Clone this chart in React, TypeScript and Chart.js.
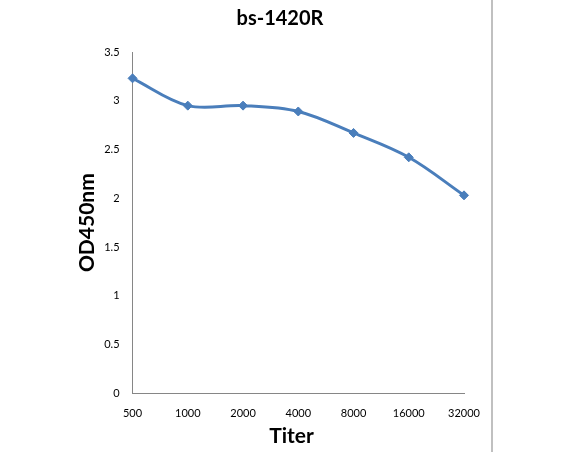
import { useEffect, useRef } from "react"
import { Chart, registerables } from "chart.js"

Chart.register(...registerables)

// valores
const titers = ["500", "1000", "2000", "4000", "8000", "16000", "32000"]
const od450 = [3.23, 2.95, 2.95, 2.89, 2.67, 2.42, 2.03]

const chartTitle = "bs-1420R"
const xTitle = "Titer"
const yTitle = "OD450nm"

const blue = "#4A7EBB"
const axisGray = "#868686"

// títulos desenhados à mão (o título do Chart.js fica centrado pelo padding)
const titlesPlugin = {
  id: "titles",
  afterDraw(chart: Chart) {
    const ctx = chart.ctx
    ctx.save()
    ctx.fillStyle = "#000"
    ctx.textAlign = "center"
    ctx.textBaseline = "alphabetic"
    ctx.font = "bold 20px Lato"
    ctx.fillText(chartTitle, 280, 24.5)
    ctx.font = "bold 21px Lato"
    ctx.fillText(xTitle, 291.5, 442.5)
    ctx.restore()
  },
}

export default function App() {
  const chartRef = useRef<HTMLCanvasElement>(null)
  const chartInstance = useRef<Chart | null>(null)

  useEffect(() => {
    if (!chartRef.current) return
    if (chartInstance.current) chartInstance.current.destroy()

    const ctx = chartRef.current.getContext("2d")
    if (!ctx) return

    chartInstance.current = new Chart(ctx, {
      type: "line",
      data: {
        labels: titers,
        datasets: [
          {
            label: yTitle,
            data: od450,
            borderColor: blue,
            backgroundColor: blue,
            borderWidth: 3,
            tension: 0.35,
            pointStyle: "rectRot",
            pointRadius: 4.5,
            pointBorderWidth: 1,
            pointBackgroundColor: blue,
            pointBorderColor: blue,
          },
        ],
      },
      options: {
        responsive: false,
        animation: false,
        layout: {
          padding: { left: 75, right: 101, top: 52, bottom: 31.5 },
        },
        plugins: {
          legend: { display: false },
          tooltip: { enabled: false },
          title: { display: false },
        },
        scales: {
          x: {
            offset: false,
            grid: { display: false, drawTicks: true, tickLength: 14 },
            border: { display: true, color: axisGray, width: 1 },
            ticks: {
              color: "#000",
              font: { family: "Lato", size: 11 },
              padding: 0,
              maxRotation: 0,
              autoSkip: false,
            },
          },
          y: {
            min: 0,
            max: 3.5,
            grid: { display: false, drawTicks: true, tickLength: 13 },
            border: { display: true, color: axisGray, width: 1 },
            ticks: {
              stepSize: 0.5,
              color: "#000",
              font: { family: "Lato", size: 11 },
              padding: 0,
              callback: (v) => String(Number(v)),
            },
            title: {
              display: true,
              text: yTitle,
              color: "#000",
              font: { family: "Lato", size: 21, weight: "bold" },
              padding: { top: 0, bottom: 4 },
            },
          },
        },
      },
      plugins: [titlesPlugin],
    })

    return () => {
      if (chartInstance.current) {
        chartInstance.current.destroy()
        chartInstance.current = null
      }
    }
  }, [])

  return (
    <div style={{ position: "fixed", left: 0, top: 0, width: 565, height: 452, background: "#fff" }}>
      <canvas ref={chartRef} width={565} height={452} style={{ width: 565, height: 452 }}></canvas>
      <div style={{ position: "absolute", left: 491, top: 0, width: 2, height: 452, background: "#c0c0c0" }}></div>
    </div>
  )
}
